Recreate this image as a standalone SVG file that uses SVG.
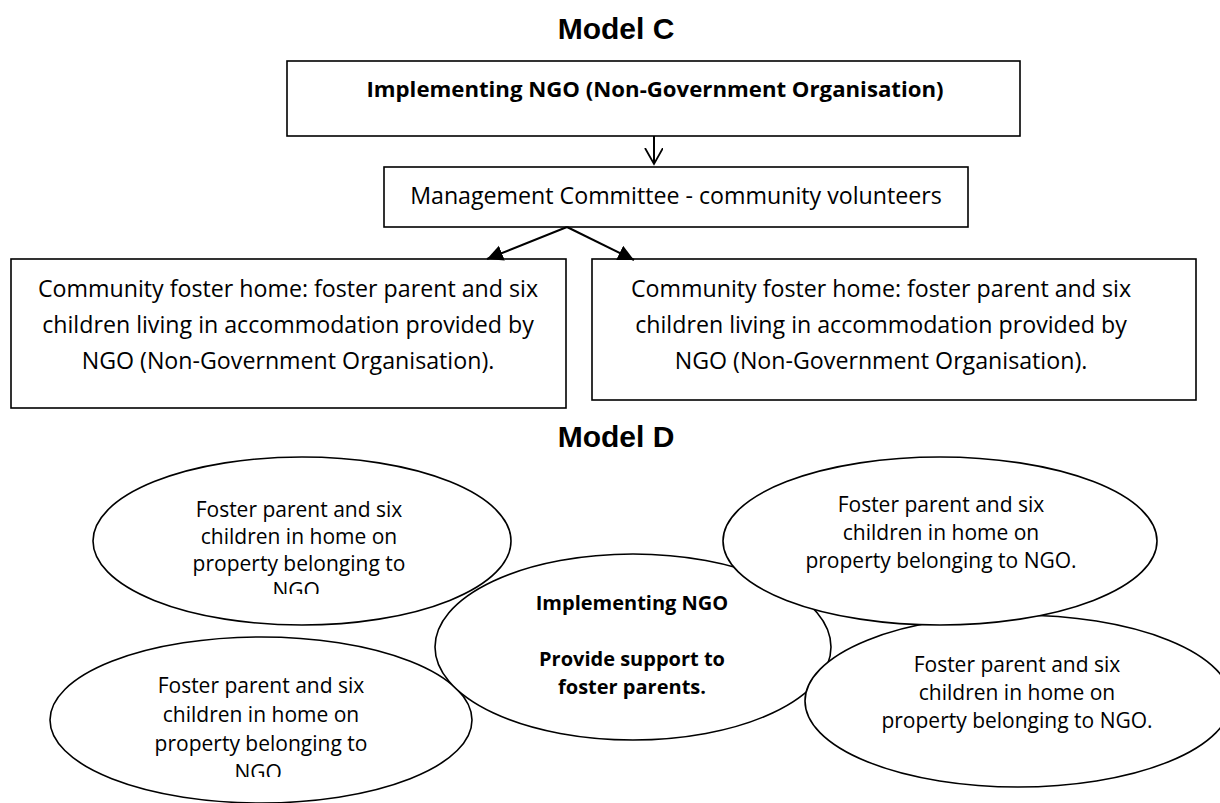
<svg xmlns="http://www.w3.org/2000/svg" width="1220" height="803" viewBox="0 0 1220 803">
<style>
  .box { fill: #ffffff; stroke: #000000; stroke-width: 1.6; }
  .ell { fill: #ffffff; stroke: #000000; stroke-width: 1.6; }
  .title { font-family: "Liberation Sans", Arial, sans-serif; font-weight: bold; font-size: 30px; fill: #000; text-anchor: middle; }
  .t { font-family: "Open Sans", "Noto Sans", sans-serif; font-size: 23.2px; fill: #000; text-anchor: middle; }
  .tb { font-family: "Open Sans", "Noto Sans", sans-serif; font-size: 22.2px; font-weight: bold; fill: #000; text-anchor: middle; }
  .te { font-family: "Open Sans", "Noto Sans", sans-serif; font-size: 21px; fill: #000; text-anchor: middle; }
  .teb { font-family: "Open Sans", "Noto Sans", sans-serif; font-size: 20px; font-weight: bold; fill: #000; text-anchor: middle; }
  .conn { fill: none; stroke: #000000; stroke-width: 2; }
</style>
<defs>
  <marker id="openV" markerWidth="20" markerHeight="20" refX="16" refY="9" orient="auto" markerUnits="userSpaceOnUse">
    <path d="M0,0 L16,9 L0,18" fill="none" stroke="#000" stroke-width="1.8"/>
  </marker>
  <marker id="solid" markerWidth="20" markerHeight="20" refX="16" refY="8" orient="auto" markerUnits="userSpaceOnUse">
    <path d="M0,0 L16,8 L0,16 Z" fill="#000"/>
  </marker>
  <clipPath id="clipTL"><rect x="0" y="440" width="600" height="154"/></clipPath>
  <clipPath id="clipBL"><rect x="0" y="620" width="600" height="157"/></clipPath>
</defs>

<rect width="1220" height="803" fill="#ffffff"/>

<text class="title" x="616" y="39">Model C</text>

<g id="node-ngo">
  <rect class="box" x="287" y="61" width="733" height="75"/>
  <text class="tb" x="655" y="97">Implementing NGO (Non-Government Organisation)</text>
</g>

<g id="node-committee">
  <rect class="box" x="384" y="167" width="584" height="60"/>
  <text class="t" x="676" y="204">Management Committee - community volunteers</text>
</g>

<g id="node-foster-left">
  <rect class="box" x="11" y="259" width="555" height="149"/>
  <text class="t" x="288" y="297">Community foster home: foster parent and six</text>
  <text class="t" x="288" y="333">children living in accommodation provided by</text>
  <text class="t" x="288" y="369">NGO (Non-Government Organisation).</text>
</g>

<g id="node-foster-right">
  <rect class="box" x="592" y="259" width="604" height="141"/>
  <text class="t" x="881" y="297">Community foster home: foster parent and six</text>
  <text class="t" x="881" y="333">children living in accommodation provided by</text>
  <text class="t" x="881" y="369">NGO (Non-Government Organisation).</text>
</g>

<g id="connectors">
  <line class="conn" x1="654" y1="136" x2="654" y2="164" marker-end="url(#openV)" stroke-width="1.6"/>
  <line class="conn" x1="567" y1="227" x2="487" y2="259" marker-end="url(#solid)"/>
  <line class="conn" x1="567" y1="227" x2="634" y2="260" marker-end="url(#solid)"/>
</g>

<text class="title" x="616" y="447">Model D</text>

<g id="node-ellipse-top-left">
  <ellipse class="ell" cx="302" cy="541" rx="209" ry="84"/>
  <g clip-path="url(#clipTL)">
    <text class="te" x="299" y="517">Foster parent and six</text>
    <text class="te" x="299" y="544">children in home on</text>
    <text class="te" x="299" y="571">property belonging to</text>
    <text class="te" x="299" y="598">NGO.</text>
  </g>
</g>

<g id="node-ellipse-bottom-left">
  <ellipse class="ell" cx="261" cy="720" rx="211" ry="83"/>
  <g clip-path="url(#clipBL)">
    <text class="te" x="261" y="693">Foster parent and six</text>
    <text class="te" x="261" y="722">children in home on</text>
    <text class="te" x="261" y="751">property belonging to</text>
    <text class="te" x="261" y="780">NGO.</text>
  </g>
</g>

<g id="node-ellipse-center">
  <ellipse class="ell" cx="633" cy="647" rx="198" ry="93"/>
  <text class="teb" x="632" y="610">Implementing NGO</text>
  <text class="teb" x="632" y="666">Provide support to</text>
  <text class="teb" x="632" y="694">foster parents.</text>
</g>

<g id="node-ellipse-bottom-right">
  <ellipse class="ell" cx="1018" cy="701" rx="213" ry="86"/>
  <text class="te" x="1017" y="672">Foster parent and six</text>
  <text class="te" x="1017" y="700">children in home on</text>
  <text class="te" x="1017" y="728">property belonging to NGO.</text>
</g>

<g id="node-ellipse-top-right">
  <ellipse class="ell" cx="940" cy="541" rx="217" ry="84"/>
  <text class="te" x="941" y="512">Foster parent and six</text>
  <text class="te" x="941" y="540">children in home on</text>
  <text class="te" x="941" y="568">property belonging to NGO.</text>
</g>
</svg>
